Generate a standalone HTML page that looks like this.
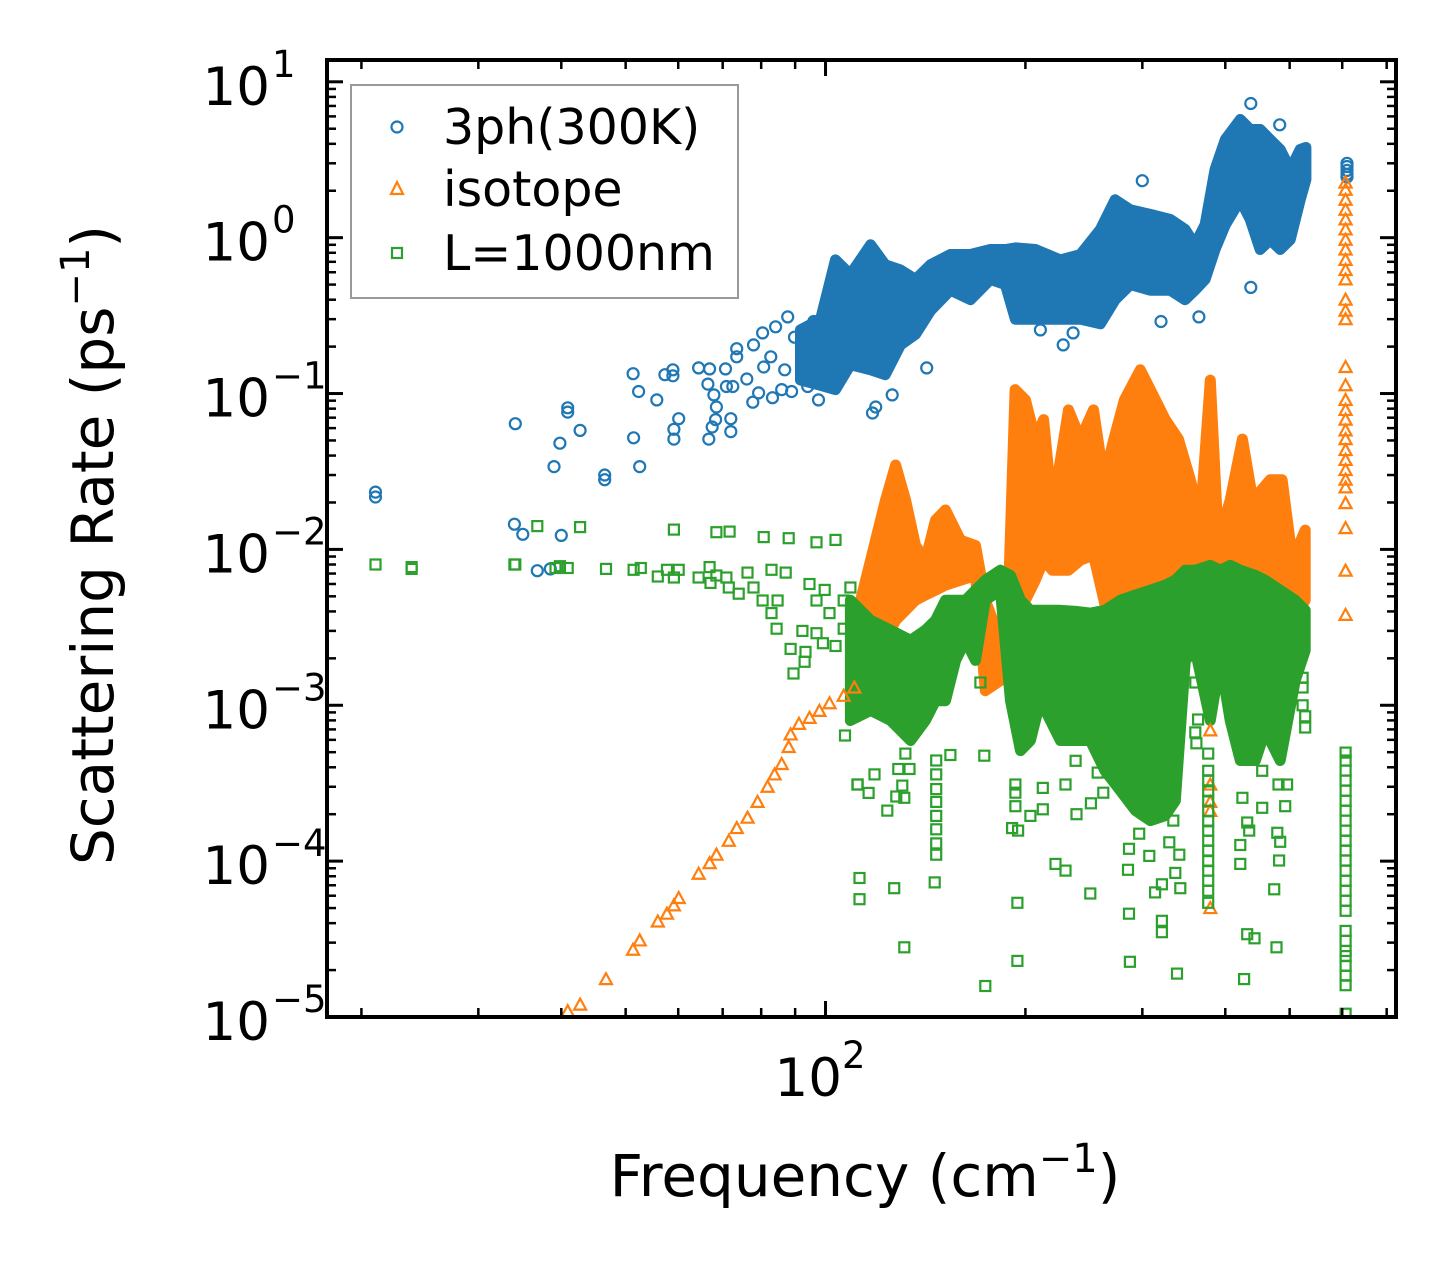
<!DOCTYPE html>
<html><head><meta charset="utf-8"><style>
html,body{margin:0;padding:0;background:#fff;}
svg{display:block;font-family:"DejaVu Sans","Liberation Sans",sans-serif;}
</style></head><body>
<svg id="chart" width="1455" height="1266" viewBox="0 0 1455 1266" xmlns="http://www.w3.org/2000/svg">
<rect width="1455" height="1266" fill="#fff"/>
<defs><clipPath id="plotclip"><rect x="327" y="60" width="1069" height="957"/></clipPath></defs>
<g id="bands" clip-path="url(#plotclip)"></g>
<g id="marks" clip-path="url(#plotclip)"></g>
<g id="axes"></g>
<text x="865" y="1196" font-size="58" text-anchor="middle">Frequency (cm<tspan font-size="40" dy="-24">−1</tspan><tspan dy="24">)</tspan></text>
<text transform="translate(113,545) rotate(-90)" font-size="58" text-anchor="middle">Scattering Rate (ps<tspan font-size="40" dy="-24">−1</tspan><tspan dy="24">)</tspan></text>
<g>
<rect x="351" y="85" width="387" height="213" fill="#fff" fill-opacity="0.8" stroke="#999" stroke-width="2"/>
<circle cx="397" cy="127" r="5.5" fill="none" stroke="#1f77b4" stroke-width="2.2"/>
<text x="443" y="144" font-size="49">3ph(300K)</text>
<polygon points="397,182 403,194 391,194" fill="none" stroke="#ff7f0e" stroke-width="2.2"/>
<text x="443" y="206" font-size="49">isotope</text>
<rect x="392" y="248" width="10" height="10" fill="none" stroke="#2ca02c" stroke-width="2.2"/>
<text x="443" y="270" font-size="49">L=1000nm</text>
</g>
</svg>
<script>
// ---- axis ranges ----
const xDomain = [17.75, 723];
const yDomain = [1e-5, 13.8];
const yTickExps = [1,0,-1,-2,-3,-4,-5];
const xMajorTicks = [100];
const xMinorTicks = [20,30,40,50,60,70,80,90,200,300,400,500,600,700];

// ---- 3ph(300K) series ----
const blueBandFreq = [91.7,98.3,103.5,109,116.9,123,129.7,136.6,143.9,154.2,165.3,177.2,186.6,193.2,207,225.8,242,259.4,273,287.8,308.4,330.6,348,360,373,386,400,421.3,436.1,451.5,467.4,483.9,501,518.6,529];
const blueBandHi = [0.256,0.30,0.72,0.58,0.90,0.67,0.62,0.54,0.67,0.78,0.78,0.84,0.84,0.86,0.84,0.72,0.78,1.13,1.75,1.51,1.41,1.31,1.13,0.90,1.21,2.73,4.26,5.73,4.94,4.94,4.26,3.68,2.73,3.68,3.79];
const blueBandLo = [0.122,0.113,0.106,0.153,0.142,0.132,0.205,0.24,0.34,0.46,0.40,0.54,0.50,0.30,0.30,0.30,0.30,0.28,0.40,0.50,0.46,0.46,0.40,0.46,0.54,0.84,1.21,1.75,1.31,0.84,0.97,0.84,0.97,1.75,2.36];
const blueFreq = [21,21,34.1,40.9,40.9,39.8,42.7,39,46.5,46.5,51.3,52.3,51.4,52.5,55.7,57.3,58.9,58.9,60.1,59.1,59.1,64.4,66.9,66.5,67.9,68.5,68.3,67.5,66.7,70.7,70.9,72.5,72,72,73.5,73.5,76.1,77.9,80.4,77.7,79.3,80.7,83.2,82.7,84.1,87.7,85.9,88.9,86.8,89.8,94.3,96,94,97.6,99.4,101.8,102.4,102.7,106,109,112,117.7,119,126,142,228,437,437,483,300,365,320,610,610,610,610,610,210.7,236,34,35,40,36.8,38.5];
const blueRate = [0.0233,0.0217,0.064,0.081,0.076,0.048,0.058,0.034,0.030,0.028,0.134,0.103,0.052,0.034,0.091,0.132,0.142,0.13,0.069,0.059,0.051,0.146,0.144,0.115,0.098,0.082,0.068,0.061,0.051,0.144,0.111,0.111,0.069,0.057,0.194,0.172,0.124,0.205,0.245,0.088,0.101,0.148,0.094,0.172,0.268,0.31,0.106,0.103,0.142,0.23,0.164,0.29,0.111,0.091,0.23,0.164,0.27,0.109,0.40,0.46,0.56,0.075,0.082,0.098,0.146,0.205,0.48,7.26,5.3,2.32,0.31,0.29,2.7,2.86,3.0,2.55,2.45,0.256,0.245,0.0145,0.0125,0.0123,0.0073,0.0075];

// ---- isotope series ----
const orangeBandFreq = [111,116.9,123.1,127.5,132,136.6,141.4,146.4,151.6,159.7,168.2,174,183.4,188.5,193,200,207,213,219.6,232.2,242,253.3,262.6,271.8,281.9,297.9,308.4,324.9,340,354.3,366.8,379.7,390.4,406.9,424.4,440,467.4,487,505,527.7];
const orangeBandHi = [0.00351,0.00853,0.0207,0.0348,0.0207,0.0106,0.00853,0.0154,0.0179,0.01146,0.0106,0.00472,0.00261,0.00472,0.106,0.091,0.051,0.068,0.0179,0.0785,0.051,0.0785,0.028,0.051,0.091,0.142,0.106,0.068,0.051,0.028,0.0154,0.122,0.01146,0.0207,0.051,0.0207,0.028,0.028,0.00853,0.0133];
const orangeBandLo = [0.00124,0.00194,0.00261,0.00351,0.00407,0.00472,0.0051,0.00547,0.0059,0.00634,0.0068,0.00124,0.00144,0.00194,0.00351,0.00472,0.00634,0.00853,0.00735,0.00735,0.00853,0.0092,0.00472,0.00261,0.00225,0.00144,0.00107,0.00144,0.00225,0.00351,0.00407,0.00194,0.00472,0.00634,0.00634,0.00472,0.00351,0.00351,0.00351,0.00472];
const orangeFreq = [40.9,42.7,46.7,51.3,52.5,55.9,57.7,59.1,60.1,64.4,66.9,68.5,71.5,73.5,76.3,79,81.8,83.8,85.9,88,88.6,91.2,94.6,97.9,101.4,106.5,110.5,379.7,379.7,379.7,379.7,379.7,607,607,607,607,607,607,607,607,607,607,607,607,607,607,607,607,607,607,607,607,607,607,607,607,607,607,607,607,607,607];
const orangeRate = [1.09e-5,1.2e-5,1.75e-5,2.7e-5,3.1e-5,4.1e-5,4.6e-5,5.2e-5,5.8e-5,8.3e-5,9.7e-5,1.1e-4,1.35e-4,1.63e-4,1.9e-4,2.4e-4,3.0e-4,3.6e-4,4.2e-4,5.4e-4,6.5e-4,7.6e-4,8.3e-4,9.2e-4,1.03e-3,1.15e-3,1.3e-3,6.9e-4,3.1e-4,2.4e-4,2.1e-4,5.0e-5,2.26,2.03,1.75,1.51,1.31,1.13,0.97,0.84,0.72,0.62,0.54,0.40,0.34,0.30,0.148,0.113,0.091,0.0785,0.068,0.058,0.051,0.0434,0.0375,0.0323,0.028,0.025,0.0198,0.0137,0.0073,0.0038];

// ---- L=1000nm (boundary) series ----
const greenBandFreq = [109,116.9,125.3,134.3,141.4,146.4,151.6,157,162.5,168.2,174,183.4,189.9,196.6,203.5,210.7,218.1,225.8,238,250.5,263.5,278,293,308.4,324.9,336.3,348.2,360.5,379.7,393.1,406.9,421.3,444,459.3,483.9,509.8,527.7];
const greenBandHi = [0.00472,0.00351,0.00303,0.00261,0.00303,0.00351,0.00472,0.00472,0.00472,0.00547,0.00634,0.00735,0.0068,0.00472,0.00407,0.00407,0.00407,0.00407,0.0040,0.0039,0.00407,0.00472,0.0051,0.00547,0.0059,0.00634,0.00735,0.00735,0.0079,0.00735,0.0079,0.00735,0.0068,0.00634,0.00547,0.00472,0.00407];
const greenBandLo = [7.99e-4,9.27e-4,7.99e-4,5.94e-4,7.99e-4,1.07e-3,1.07e-3,1.94e-3,2.61e-3,1.94e-3,4.72e-3,5.47e-3,1.07e-3,5.12e-4,5.94e-4,1.07e-3,7.99e-4,5.94e-4,5.94e-4,5.94e-4,3.81e-4,2.83e-4,2.11e-4,1.82e-4,1.96e-4,2.44e-4,1.94e-3,2.25e-3,7.99e-4,1.94e-3,7.99e-4,4.42e-4,4.42e-4,6.89e-4,4.42e-4,1.44e-3,2.25e-3];
const greenFreq = [21,23.8,23.8,34,34.1,36.8,42.7,59.1,68.5,71.7,80.7,88,96.9,103.5,39.2,39.8,40.9,46.7,51.4,52.7,55.9,57.7,59.1,60.1,64.4,66.9,67.1,68.5,70.9,71.5,74,76.3,77.9,80.4,82.9,82.9,84.4,87.1,88.6,89.5,93,93.3,92.3,96.9,99.1,103.5,107,111.7,112.5,84.7,96.9,101.4,106.5,109,106.5,99.7,94.6,
111.8,116.1,118.5,123.9,127.8,131.4,130.5,128.7,133.8,131.9,112.5,126.9,131.4,146,146.8,146.8,146.8,146.8,146.8,146.8,146.8,146.8,154.2,173.4,171.1,174,193.2,193.2,193.2,191,195,194.5,194.5,203.5,212.4,212.4,222,229.8,229.8,238.8,238,250.5,251,262,257,258,285.4,286.4,286.4,287.3,296.8,307.3,313.6,321,321,321,329.4,338.3,336.3,342.2,341,334,360.5,361.8,
377,377,377,377,377,377,377,377,377,377,377,377,377,377,377,360.5,364,421.3,421.3,427,431.6,434.6,431.6,442.6,424.4,454.6,454.6,474,477.7,479,483.9,482,492.3,495.6,481,523,527.7,527.7,523,523,
607,607,607,607,607,607,607,607,607,607,607,607,607,607,607,607,607,607,607,607,607,607,607,607,607];
const greenRate = [0.008,0.0077,0.0075,0.008,0.008,0.0141,0.0139,0.0134,0.0129,0.013,0.012,0.0118,0.0111,0.0115,0.0076,0.0078,0.0076,0.0075,0.0074,0.0076,0.0067,0.0074,0.0066,0.0074,0.0066,0.0077,0.0061,0.0068,0.0066,0.0057,0.0052,0.0071,0.0057,0.0047,0.0074,0.0039,0.0031,0.0071,0.0023,0.0016,0.0019,0.0022,0.003,0.0029,0.0025,0.0024,6.4e-4,3.1e-4,5.7e-5,0.0047,0.0047,0.0039,0.0047,0.0057,0.0031,0.0055,0.006,
3.1e-4,2.74e-4,3.6e-4,2.11e-4,2.6e-4,2.55e-4,3.05e-4,3.9e-4,3.9e-4,4.9e-4,7.8e-5,6.7e-5,2.8e-5,7.3e-5,4.42e-4,3.6e-4,2.9e-4,2.4e-4,1.95e-4,1.6e-4,1.3e-4,1.1e-4,4.8e-4,4.75e-4,1.4e-3,1.58e-5,3.1e-4,2.75e-4,2.25e-4,1.63e-4,1.57e-4,5.4e-5,2.29e-5,1.95e-4,2.95e-4,2.15e-4,9.6e-5,8.7e-5,3.1e-4,2e-4,4.4e-4,6.2e-5,2.35e-4,2.75e-4,3.7e-4,5.0e-4,8.8e-5,1.2e-4,4.6e-5,2.26e-5,1.5e-4,1.08e-4,6.3e-5,7.1e-5,4.14e-5,3.5e-5,1.32e-4,1.9e-5,8.4e-5,6.7e-5,1.1e-4,1.82e-4,6.7e-4,5.7e-4,
4.9e-4,3.8e-4,3.3e-4,2.8e-4,2.44e-4,2.1e-4,1.8e-4,1.57e-4,1.35e-4,1.17e-4,1.0e-4,8.7e-5,7.5e-5,6.45e-5,5.4e-5,1.4e-3,8.1e-4,1.27e-4,9.6e-5,1.75e-5,1.77e-4,1.57e-4,3.4e-5,3.2e-5,2.55e-4,3.8e-4,2.2e-4,6.6e-5,2.8e-5,1.52e-4,1.33e-4,1.01e-4,2.25e-4,3.1e-4,3.1e-4,1.0e-3,8.5e-4,7.2e-4,1.3e-3,1.5e-3,
4.97e-4,4.42e-4,3.81e-4,3.29e-4,2.83e-4,2.44e-4,2.11e-4,1.82e-4,1.57e-4,1.35e-4,1.17e-4,1.01e-4,8.68e-5,7.48e-5,6.45e-5,5.57e-5,4.80e-5,3.57e-5,3.08e-5,2.65e-5,2.46e-5,2.13e-5,1.84e-5,1.6e-5,1.05e-5];

// ---- scales ----
const PL=327, PR=1396, PT=60, PB=1017;
function xScale(f){ return PL + (PR-PL)*(Math.log10(f)-Math.log10(xDomain[0]))/(Math.log10(xDomain[1])-Math.log10(xDomain[0])); }
function yScale(v){ return PB - (PB-PT)*(Math.log10(v)-Math.log10(yDomain[0]))/(Math.log10(yDomain[1])-Math.log10(yDomain[0])); }

const NS="http://www.w3.org/2000/svg";
function mk(tag, attrs, parent){ const e=document.createElementNS(NS,tag); for(const k in attrs) e.setAttribute(k, attrs[k]); parent.appendChild(e); return e; }

const bands=document.getElementById('bands');
const marks=document.getElementById('marks');
const axes=document.getElementById('axes');
const COL={blue:'#1f77b4',orange:'#ff7f0e',green:'#2ca02c'};

function drawBand(freq, hi, lo, color, name){
  let pts=[];
  for(let i=0;i<freq.length;i++) pts.push(xScale(freq[i]).toFixed(1)+','+yScale(hi[i]).toFixed(1));
  for(let i=freq.length-1;i>=0;i--) pts.push(xScale(freq[i]).toFixed(1)+','+yScale(lo[i]).toFixed(1));
  const p=mk('polygon',{points:pts.join(' '),fill:color,stroke:color,'stroke-width':11,'stroke-linejoin':'round'},bands);
  
  
}
function drawMarker(kind, f, v, color, name){
  const x=xScale(f), y=yScale(v);
  let e;
  if(kind==='circle') e=mk('circle',{cx:x.toFixed(1),cy:y.toFixed(1),r:5.5,fill:'none',stroke:color,'stroke-width':2.2},marks);
  else if(kind==='tri') e=mk('polygon',{points:`${x},${y-6} ${x+6},${y+5} ${x-6},${y+5}`,fill:'none',stroke:color,'stroke-width':2.2},marks);
  else e=mk('rect',{x:(x-5).toFixed(1),y:(y-5).toFixed(1),width:10,height:10,fill:'none',stroke:color,'stroke-width':2.2},marks);
  
  
}

drawBand(blueBandFreq, blueBandHi, blueBandLo, COL.blue, '3ph-dense-region');
for(let i=0;i<blueFreq.length;i++) drawMarker('circle', blueFreq[i], blueRate[i], COL.blue, '3ph-point');
drawBand(orangeBandFreq, orangeBandHi, orangeBandLo, COL.orange, 'isotope-dense-region');
for(let i=0;i<orangeFreq.length;i++) drawMarker('tri', orangeFreq[i], orangeRate[i], COL.orange, 'isotope-point');
drawBand(greenBandFreq, greenBandHi, greenBandLo, COL.green, 'boundary-dense-region');
for(let i=0;i<greenFreq.length;i++) drawMarker('sq', greenFreq[i], greenRate[i], COL.green, 'boundary-point');

// ---- axes frame ----
const frame=mk('rect',{x:PL,y:PT,width:PR-PL,height:PB-PT,fill:'none',stroke:'#000','stroke-width':4},axes);



// y ticks
for(const e of yTickExps){
  const y=yScale(Math.pow(10,e));
  mk('line',{x1:PL,x2:PL+16,y1:y,y2:y,stroke:'#000','stroke-width':3},axes);
  mk('line',{x1:PR,x2:PR-16,y1:y,y2:y,stroke:'#000','stroke-width':3},axes);
  const t=mk('text',{x:270,y:y+23,'font-size':53,'text-anchor':'end'},axes);
  
  
  t.textContent='10';
  const s=mk('tspan',{'font-size':37,dy:-28,x:272,'text-anchor':'start'},t);
  s.textContent=(e<0?'−':'')+Math.abs(e);
  if(e>-5){
    for(let m=2;m<=9;m++){
      const ym=yScale(m*Math.pow(10,e-1));
      if(ym>PB) continue;
      mk('line',{x1:PL,x2:PL+9,y1:ym,y2:ym,stroke:'#000','stroke-width':2.5},axes);
      mk('line',{x1:PR,x2:PR-9,y1:ym,y2:ym,stroke:'#000','stroke-width':2.5},axes);
    }
  }
}
for(let m=2;m<=9;m++){ const ym=yScale(m*10); if(ym<PT) continue;
  mk('line',{x1:PL,x2:PL+9,y1:ym,y2:ym,stroke:'#000','stroke-width':2.5},axes);
  mk('line',{x1:PR,x2:PR-9,y1:ym,y2:ym,stroke:'#000','stroke-width':2.5},axes); }

// x ticks
for(const f of xMajorTicks){
  const x=xScale(f);
  mk('line',{x1:x,x2:x,y1:PB,y2:PB-16,stroke:'#000','stroke-width':3},axes);
  mk('line',{x1:x,x2:x,y1:PT,y2:PT+16,stroke:'#000','stroke-width':3},axes);
  const t=mk('text',{x:x+40,y:1096,'font-size':53,'text-anchor':'end'},axes);
  
  
  t.textContent='10';
  const s=mk('tspan',{'font-size':37,dy:-28},t);
  s.textContent=String(Math.round(Math.log10(f)));
}
for(const f of xMinorTicks){
  const x=xScale(f);
  mk('line',{x1:x,x2:x,y1:PB,y2:PB-9,stroke:'#000','stroke-width':2.5},axes);
  mk('line',{x1:x,x2:x,y1:PT,y2:PT+9,stroke:'#000','stroke-width':2.5},axes);
}
</script>
</body></html>
